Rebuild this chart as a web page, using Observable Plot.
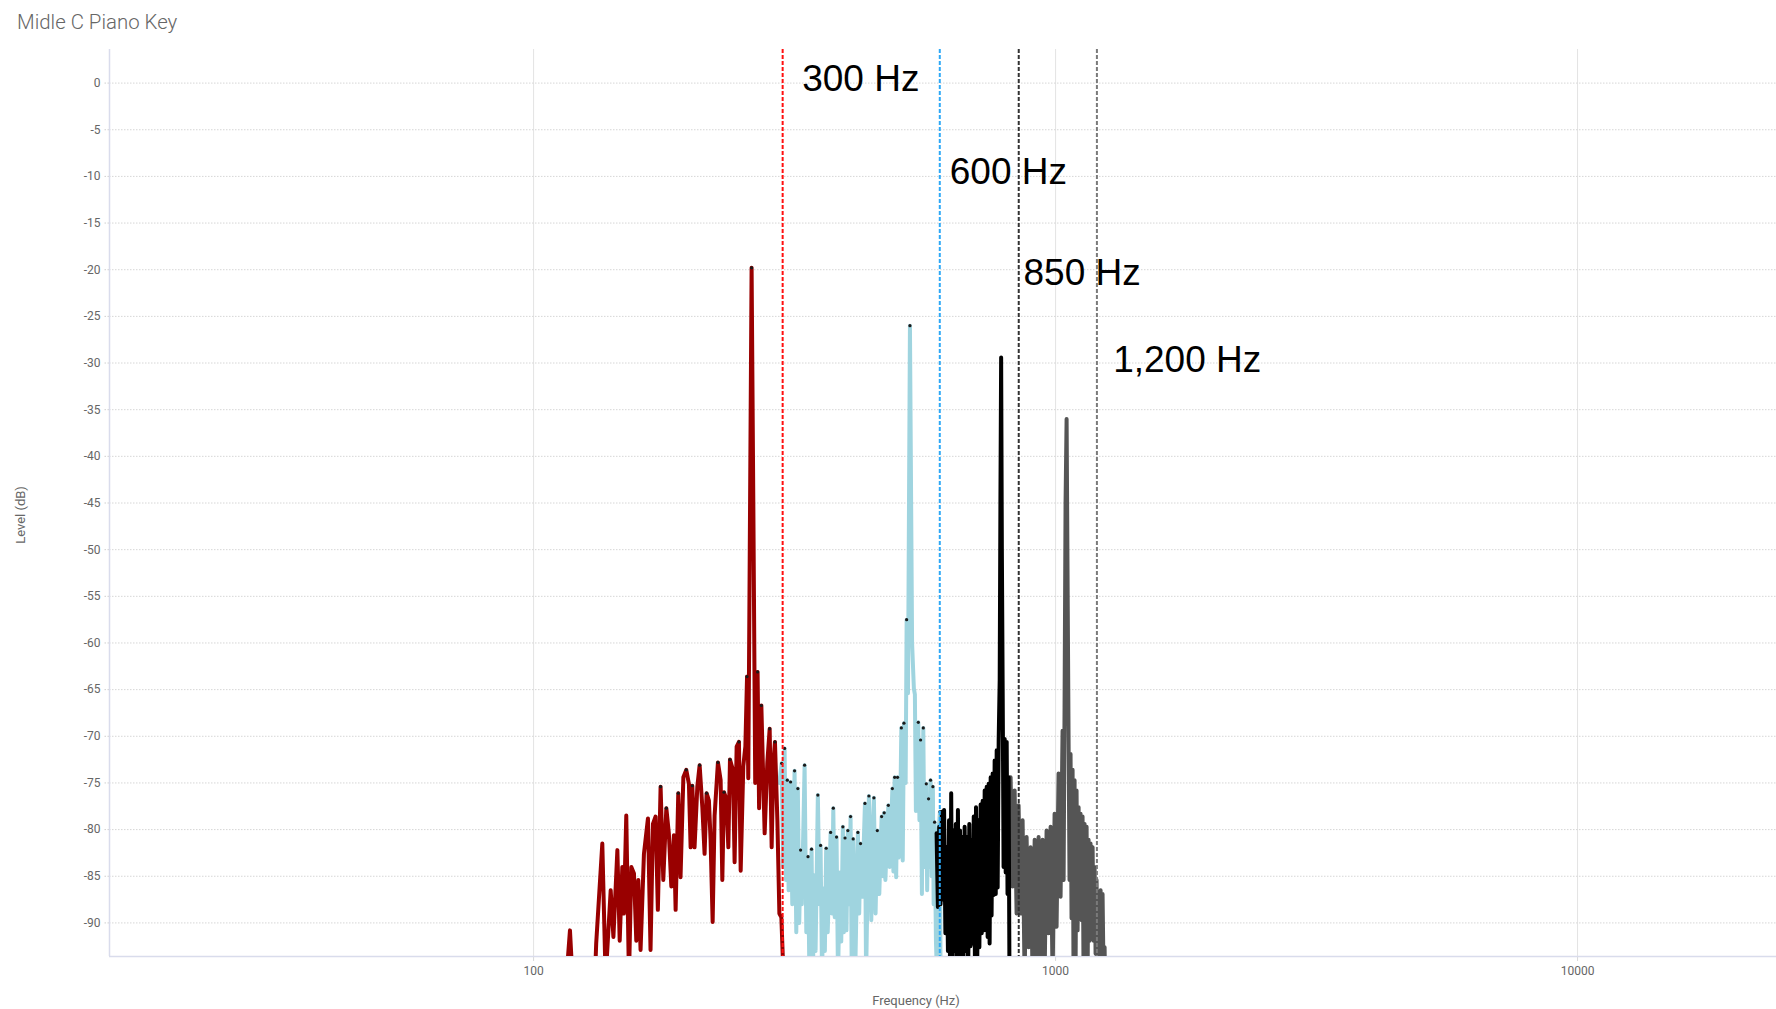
<!DOCTYPE html>
<html>
<head>
<meta charset="utf-8">
<script src="https://cdn.jsdelivr.net/npm/d3@7"></script>
<script src="https://cdn.jsdelivr.net/npm/@observablehq/plot@0.6"></script>
<style>
  body { margin: 0; background: #fff; }
  #title { box-sizing: border-box; height: 40px; padding: 10px 0 0 17px; font: 300 20.4px Roboto, sans-serif; line-height: 24px; color: #666; }
</style>
</head>
<body>
<div id="title">Midle C Piano Key</div>
<div id="chart"></div>
<script>
// ---- scale settings / ticks ----
const xDomain = [15.4, 24050];
const yDomain = [-93.6, 3.6];
const xTicks = [100, 1000, 10000];
const yTicks = [0, -5, -10, -15, -20, -25, -30, -35, -40, -45, -50, -55, -60, -65, -70, -75, -80, -85, -90];

// ---- band markers ----
const markerHz = [300, 600, 850, 1200];
const markerColors = ["#ff1010", "#2ea8f6", "#333333", "#7a7a7a"];
const labelText = ["300 Hz", "600 Hz", "850 Hz", "1,200 Hz"];
const labelHz = [327, 627, 868, 1289];
const labelDb = [0.4, -9.5, -20.4, -29.7];

// ---- spectrum series: [frequency Hz, level dB] ----
const red = [
[114.5,-99],[117.4,-90.8],[119.5,-99],
[130.5,-99],[131.8,-92.2],[135.4,-81.5],[137.4,-96],[140.5,-86.5],[142.2,-91.5],[144.7,-82.2],[146.2,-91.9],[147.9,-84.0],[148.9,-89.0],[150.5,-78.5],[152.3,-96],[153.9,-84.0],[155.7,-84.7],[157.3,-91.9],[158.7,-85.4],[160.3,-92.9],[162.7,-82.6],[165.6,-78.8],[167.5,-92.9],[169.3,-79.4],[171.3,-78.6],[173.0,-88.6],[175.1,-75.4],[177.2,-85.4],[179.6,-77.7],[181.6,-80.4],[183.6,-86.1],[185.7,-80.6],[187.1,-88.6],[189.3,-76.1],[191.2,-85.1],[193.6,-74.4],[196.1,-73.6],[198.4,-75.1],[199.9,-81.9],[201.4,-75.3],[203.4,-81.9],[205.9,-75.4],[208.0,-73.1],[210.5,-77.6],[212.6,-82.6],[214.5,-76.1],[216.7,-76.9],[218.3,-81.1],[220.3,-89.9],[222.2,-78.5],[225.5,-72.8],[228.2,-74.7],[229.9,-85.4],[231.6,-76.0],[234.0,-76.7],[236.1,-81.9],[237.8,-72.5],[240.9,-73.6],[242.7,-83.5],[244.9,-71.1],[247.4,-70.6],[249.3,-84.4],[252.2,-73.2],[254.5,-71.1],[256.4,-63.6],[257.8,-74.5],[259.5,-50],[261.6,-19.8],[263.6,-45],[265.8,-75],[268.6,-63.1],[270.4,-77.7],[273.1,-66.7],[277.1,-80.4],[280.4,-72.8],[283.3,-69.2],[285.8,-81.9],[288.0,-72.8],[290.0,-70.6],[293.1,-79.0],[295.7,-89.0],[298.3,-89.4],[301.7,-97]
];

const blue = [
[295.5,-75],[298.7,-72.9],[300.5,-84],[302.6,-71.3],[304.5,-85.4],[306.2,-74.7],[308.0,-86.5],[310.7,-74.9],[313.0,-88],[316.2,-73.7],[318.6,-91],[320.8,-75.6],[322.8,-90],[324.7,-82.2],[326.5,-88],[330.5,-73.1],[333.0,-91],[335.5,-82.9],[337.5,-95],[340.8,-82.1],[343.0,-96],[344.3,-84.9],[346.9,-93],[350.4,-76.3],[353.0,-88],[354.6,-81.7],[357.0,-96],[358.9,-86.3],[361.4,-93],[363.5,-82.0],[366.0,-91],[370.7,-80.3],[373.0,-89],[375.1,-77.7],[377.5,-89.4],[380.5,-80.8],[383.0,-96],[386.2,-84.6],[388.5,-92],[391.3,-79.7],[393.0,-91],[395.0,-80.9],[397.5,-90.8],[400.0,-80.1],[402.5,-88],[404.8,-78.6],[407.0,-96],[409.5,-81],[411.0,-85.6],[413.0,-96],[418.1,-80.3],[420.5,-89],[423.0,-81.5],[426.0,-87.2],[431.3,-77.2],[433.5,-96],[438.9,-76.4],[441.0,-80.1],[443.5,-89.7],[448.7,-76.6],[452.0,-89],[455.5,-80.1],[459.5,-86.9],[464.2,-78.6],[467.0,-85],[469.5,-78.2],[472.0,-85.4],[478.2,-77.4],[481.0,-84],[486.8,-75.6],[489.0,-84.5],[491.7,-74.4],[495.0,-85.1],[498.0,-74.4],[500.5,-83],[503.5,-79.7],[506.4,-69.1],[509.5,-83.3],[512.3,-68.6],[516.1,-75],[518.4,-57.5],[521.5,-65.4],[526.0,-26],[531.0,-60],[535.2,-64.9],[537.6,-65.5],[540.0,-78],[545.8,-68.5],[548.5,-79],[551.3,-70.4],[554.5,-86.9],[557.9,-69.1],[561.0,-84],[565.3,-75.1],[567.5,-86.5],[571.0,-76.7],[573.6,-84],[576.1,-74.7],[579.0,-85],[582.0,-75.4],[584.0,-88],[586.4,-79.2],[590.0,-92],[593.5,-97],[597.0,-80],[600.4,-78.1],[602.0,-96]
];

const black = [
[591.6,-80.4],[595,-88.3],[598.5,-79.7],[602,-88],[605.5,-78.1],[609,-87.5],[611.5,-77.9],[615,-91.1],[618.4,-81.9],[622,-93],[625,-79],[628,-96],[631,-76.1],[634,-96],[637.5,-80.1],[640.6,-93],[644,-79.4],[647,-96],[650,-77.9],[653,-96],[656,-80.1],[659,-96],[662,-80.8],[665.5,-96],[669.5,-79.7],[673,-93],[676.5,-80.8],[680,-96],[683.5,-79.4],[687,-92.5],[690.5,-81.1],[694,-92.2],[697,-78.6],[700.5,-93.5],[704,-77.6],[707.5,-96],[711,-79.0],[714.5,-92.6],[718.5,-77.3],[722,-91.1],[725,-76.9],[728.5,-90.8],[731.4,-75.8],[735,-89.7],[738,-75.4],[741,-91.5],[744.3,-75.1],[747.5,-92.2],[751,-74.4],[754,-89.2],[757.6,-74.0],[761,-87],[764.3,-72.6],[768,-86.9],[771.2,-71.5],[774.5,-86.2],[778,-70.4],[781.5,-64],[784,-45],[786.5,-29.4],[789,-50],[792,-66],[795,-84],[799,-70.3],[802.5,-84.6],[806,-70.6],[809,-86.9],[812.8,-74.4],[816,-96],[821,-97]
];

const gray = [
[820.0,-74.4],[827.2,-86.1],[834.7,-75.8],[842.0,-89],[849.4,-77.4],[857.0,-89],[864.6,-79],[872.3,-96],[880.0,-80.8],[887.9,-92.6],[895.7,-81.9],[903.6,-96],[911.9,-81.1],[919.4,-96],[927.8,-80.8],[936.0,-96],[944.3,-81.1],[952.6,-96],[961.1,-80.1],[969.6,-91.1],[978.2,-79.7],[987.0,-96],[995.6,-78.3],[1004.4,-90.4],[1013.2,-74],[1022.3,-87.2],[1031.3,-69.4],[1036,-85.4],[1040.4,-66.9],[1045,-45],[1049.8,-36],[1054,-52],[1059,-70.4],[1063.5,-85.4],[1068.3,-71.9],[1073,-89.5],[1077.9,-73.6],[1082.5,-96],[1087.4,-74.7],[1092,-96],[1097,-75.8],[1102,-90.8],[1106.9,-77.6],[1111.5,-88.3],[1116.6,-78.3],[1121.5,-89.7],[1126.4,-78.6],[1131.5,-96],[1136.6,-79.4],[1141.5,-96],[1146.6,-79.7],[1151.5,-96],[1156.7,-81.1],[1162,-91.9],[1166.8,-81.5],[1172,-91.1],[1177.4,-81.9],[1182.5,-91.9],[1187.7,-84],[1193,-93.3],[1198.2,-85.4],[1203.5,-96],[1209,-86.9],[1214,-96],[1219.7,-86.5],[1225,-96],[1230.3,-86.9],[1236,-96],[1241.4,-92.6],[1245,-98]
];

function localPeaks(arr, minDb) {
  return arr.filter((d, i) => i > 0 && i < arr.length - 1 && d[1] > arr[i - 1][1] && d[1] > arr[i + 1][1] && d[1] > minDb);
}

const lineOpts = {x: d => d[0], y: d => d[1], strokeWidth: 4, clip: true, strokeLinejoin: "round"};

const plot = Plot.plot({
  width: 1776,
  height: 969,
  marginTop: 9,
  marginBottom: 53,
  marginLeft: 109,
  marginRight: 0,
  style: {fontFamily: "Roboto, sans-serif", fontSize: "12px", color: "#666", background: "#fff"},
  x: {type: "log", domain: xDomain},
  y: {domain: yDomain},
  marks: [
    Plot.ruleX(xTicks, {stroke: "#e3e3e3", strokeWidth: 1}),
    Plot.ruleY(yTicks, {stroke: "#d6d6d6", strokeDasharray: "1.5,1.5"}),
    Plot.axisY({ticks: yTicks, tickSize: 5, tickPadding: 4, tickFormat: d => String(d), label: null, stroke: "#cfcfcf", strokeDasharray: "1.5,1.5", fill: "#666"}),
    Plot.axisX({ticks: xTicks, tickSize: 5, tickPadding: 5, tickFormat: d => String(d), label: null, stroke: "#d8d8d8", fill: "#666"}),
    Plot.ruleX([xDomain[0]], {stroke: "#d9dcec", strokeWidth: 1.5}),
    Plot.ruleY([yDomain[0]], {stroke: "#d9dcec", strokeWidth: 1.5}),
    Plot.line(blue, {...lineOpts, stroke: "#9fd4df"}),
    Plot.line(red, {...lineOpts, stroke: "#990000"}),
    Plot.line(gray, {...lineOpts, stroke: "#555555"}),
    Plot.line(black, {...lineOpts, stroke: "#000000"}),
    Plot.dot(localPeaks(red, -78), {x: d => d[0], y: d => d[1], r: 1.6, fill: "#1a1a1a", stroke: null}),
    Plot.dot(localPeaks(blue, -84), {x: d => d[0], y: d => d[1], r: 1.6, fill: "#1a1a1a", stroke: null}),
    ...markerHz.map((hz, i) => Plot.ruleX([hz], {stroke: markerColors[i], strokeWidth: 2, strokeDasharray: "4,2"})),
    Plot.text(labelText, {x: (d, i) => labelHz[i], y: (d, i) => labelDb[i], text: d => d, textAnchor: "start", fontSize: 37, fontFamily: "'Liberation Sans', Arial, sans-serif", fill: "#000"}),
    Plot.text(["Level (dB)"], {frameAnchor: "left", textAnchor: "middle", lineAnchor: "middle", dx: -89, dy: 12, rotate: -90, fontSize: 13, fill: "#666"}),
    Plot.text(["Frequency (Hz)"], {frameAnchor: "bottom", textAnchor: "middle", lineAnchor: "middle", dx: -27, dy: 44, fontSize: 13, fill: "#666"})
  ]
});
document.getElementById("chart").appendChild(plot);
</script>
</body>
</html>
